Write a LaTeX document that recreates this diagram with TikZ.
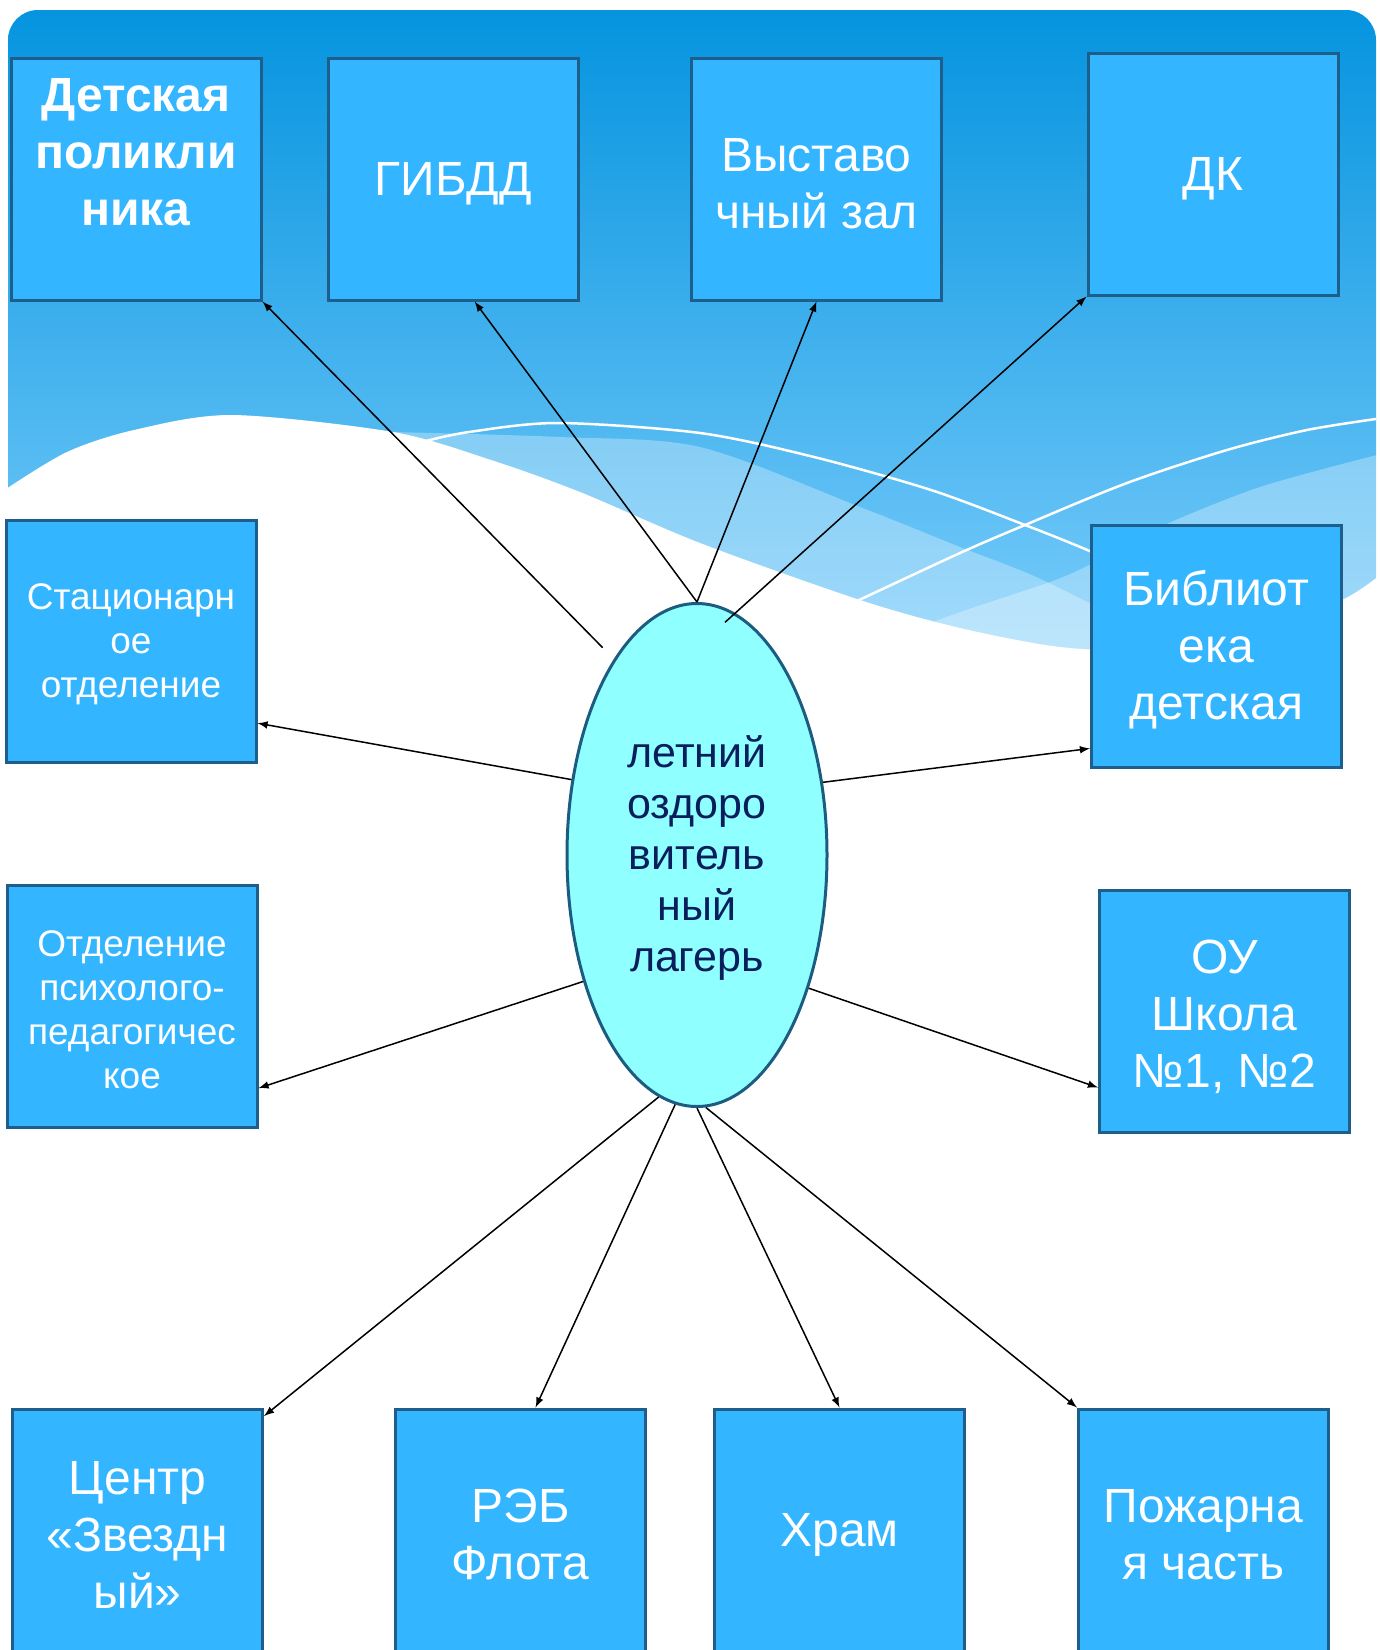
\documentclass[tikz,border=0pt]{standalone}
\usepackage{fontspec}
\setmainfont{Liberation Sans}
\usetikzlibrary{shapes.geometric}

\definecolor{skyfill}{RGB}{51,181,255}
\definecolor{skyedge}{RGB}{30,94,138}
\definecolor{campfill}{RGB}{143,255,255}
\definecolor{campedge}{RGB}{28,92,128}
\definecolor{camptext}{RGB}{10,30,92}
\definecolor{bgtop}{RGB}{5,148,223}
\definecolor{bgbottom}{RGB}{140,213,255}

\newcommand{\boxfont}{\fontsize{24}{28.5}\selectfont}
\newcommand{\notefont}{\fontsize{18.5}{22}\selectfont}
\newcommand{\campfont}{\fontsize{21.5}{25.5}\selectfont}
% invisible strut for the first line of a box text
\newcommand{\topline}{\rule{0pt}{0.9em}}

\begin{document}
\begin{tikzpicture}[x=0.5pt, y=-0.5pt,
    box/.style={draw=skyedge, line width=1.5pt, fill=skyfill, minimum width=125pt, minimum height=121pt, inner sep=2pt, align=center, text=white, font=\boxfont},
    note/.style={box, font=\notefont},
    camp/.style={ellipse, draw=campedge, line width=1.5pt, fill=campfill, minimum width=130pt, minimum height=251.5pt, inner sep=0pt, align=center, text=camptext, font=\campfont},
    link/.style={draw, line width=0.75pt, -latex}]
    \useasboundingbox (0,0) rectangle (1380,1650);

    % Background waves
    \shade[top color=bgtop, bottom color=bgbottom, rounded corners=15pt] (8,10) rectangle (1376,760);
    \fill[white, opacity=0.3] plot[smooth] coordinates {(393,432) (560,437) (700,447) (860,507) (960,547) (1047,582) (1200,660)} -- (1200,770) -- (393,770) -- cycle;
    \fill[white, opacity=0.3] plot[smooth] coordinates {(1377,455) (1260,487) (1160,527) (1093,563) (1050,582) (933,622) (800,680)} -- (800,770) -- (1377,770) -- cycle;
    \fill[white] plot[smooth] coordinates {(6,489) (67,452) (134,430) (232,415) (393,432) (491,460) (580,492) (700,543) (860,600) (960,628) (1060,647) (1150,650) (1250,636) (1342,600) (1380,575)} -- (1380,780) -- (6,780) -- cycle;
    \draw[white, line width=1.25pt] plot[smooth] coordinates {(426,441) (469,432) (558,423) (700,433) (814,457) (931,490) (1025,525) (1092,552) (1200,600)};
    \draw[white, line width=1.25pt] plot[smooth] coordinates {(857,601) (960,553) (1025,525) (1127,483) (1227,450) (1307,430) (1376,419)};

    % Centre
    \node[camp] (camp) at (697,855) {\topline летний\\оздоро\\витель\\ный\\лагерь};

    % Top row
    \node[box] (det) at (136,179) {};
    \node[text=white, font=\boxfont\bfseries, align=center, inner sep=0pt, anchor=north] (detlabel) at ([yshift=-11pt]det.north) {Детская\\поликли\\ника};
    \node[box] (gibdd) at (453,179) {\topline ГИБДД};
    \node[box] (vyst) at (816.5,179) {\topline Выставо\\чный зал};
    \node[box] (dk) at (1213,174) {\topline ДК};

    % Sides
    \node[note] (stat) at (131,641) {\topline Стационарн\\ое\\отделение};
    \node[box] (bib) at (1216.5,646) {\topline Библиот\\ека\\детская};
    \node[note] (otd) at (132,1006) {\topline Отделение\\психолого-\\педагогичес\\кое};
    \node[box] (ou) at (1224.5,1011.5) {\topline ОУ\\Школа\\№1, №2};

    % Bottom row
    \node[box] (centr) at (137.5,1530) {\topline Центр\\«Звездн\\ый»};
    \node[box] (reb) at (520.5,1530) {\topline РЭБ\\Флота};
    \node[box] (hram) at (839.5,1530) {\topline Храм};
    \node[box] (pozh) at (1203.5,1530) {\topline Пожарна\\я часть};

    % Links
    \draw[link, shorten <=8pt] (camp.113) -- (det.south east);
    \draw[link] (camp.north) -- (gibdd.-80);
    \draw[link] (camp.north) -- (vyst.south);
    \draw[link, shorten <=-7pt] (camp.81) -- (dk.south west);
    \draw[link] (camp.149) -- (stat.-33);
    \draw[link] (camp.30) -- (bib.-141);
    \draw[link] (camp.228) -- (otd.-33);
    \draw[link] (camp.-50) -- (ou.-149);
    \draw[link] (camp.261) -- (centr.42);
    \draw[link] (camp.265) -- (reb.83);
    \draw[link] (camp.south) -- (hram.north);
    \draw[link] (camp.272) -- (pozh.north west);
\end{tikzpicture}
\end{document}
